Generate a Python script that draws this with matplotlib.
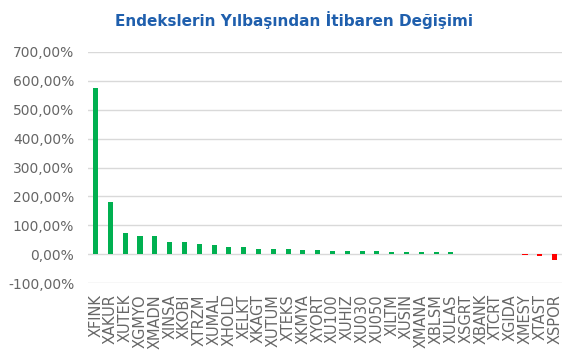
import matplotlib.pyplot as plt
import numpy as np
from matplotlib.ticker import FuncFormatter

plt.rcParams['font.family'] = ['DejaVu Sans']

# index codes and their change since the start of the year (%)
endeksler = ['XFINK', 'XAKUR', 'XUTEK', 'XGMYO', 'XMADN', 'XINSA', 'XKOBI', 'XTRZM',
             'XUMAL', 'XHOLD', 'XELKT', 'XKAGT', 'XUTUM', 'XTEKS', 'XKMYA', 'XYORT',
             'XU100', 'XUHIZ', 'XU030', 'XU050', 'XILTM', 'XUSIN', 'XMANA', 'XBLSM',
             'XULAS', 'XSGRT', 'XBANK', 'XTCRT', 'XGIDA', 'XMESY', 'XTAST', 'XSPOR']
degisim = [575, 182, 74, 62, 62, 43, 43, 35,
           30, 25, 25, 17, 17, 17, 14, 14,
           12, 12, 12, 12, 7, 7, 6, 6,
           6, 0.5, 0.3, 0.2, 0.1, -3, -7, -22]

fig = plt.figure(figsize=(5.8, 3.61), dpi=100)
ax = fig.add_axes([0.152, 0.216, 0.817, 0.64])

x = np.arange(len(endeksler))
renkler = ['#00B050' if v >= 0 else '#FF0000' for v in degisim]
ax.bar(x, degisim, width=0.34, color=renkler, zorder=3)

ax.set_ylim(-100, 700)
ax.set_yticks(np.arange(-100, 701, 100))
ax.yaxis.set_major_formatter(FuncFormatter(lambda v, p: f'{v:.2f}'.replace('.', ',') + '%'))
ax.set_xlim(-0.5, len(endeksler) - 0.5)
ax.set_xticks(x)
ax.set_xticklabels(endeksler, rotation=90, va='top', ha='center')

ax.grid(axis='y', color='#D9D9D9', linewidth=1, zorder=0)
for s in ax.spines.values():
    s.set_visible(False)
ax.tick_params(axis='both', length=0, colors='#666666', labelsize=10)
ax.tick_params(axis='x', labelsize=10.5, pad=8)
ax.tick_params(axis='y', pad=10)

fig.text(0.507, 0.945, 'Endekslerin Yılbaşından İtibaren Değişimi', ha='center', va='center',
         fontsize=11, fontweight='bold', color='#1F5FAD')

fig.savefig('out.png', dpi=100)
